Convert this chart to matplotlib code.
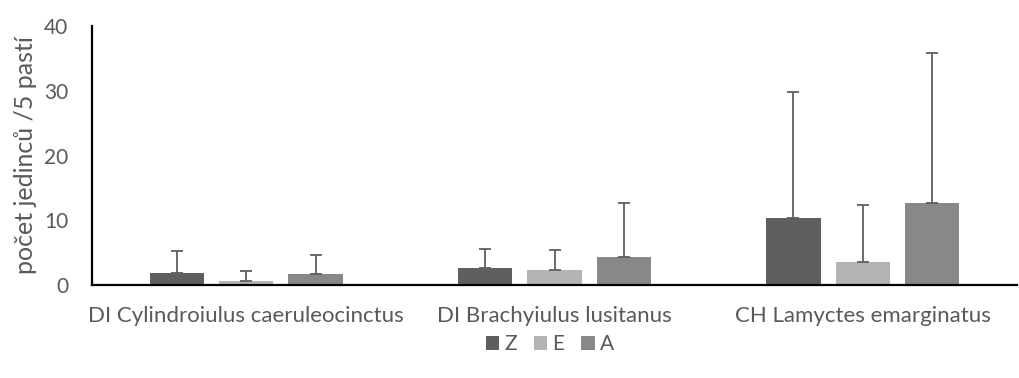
import matplotlib
matplotlib.use("Agg")
import matplotlib.pyplot as plt
import numpy as np

# Data
categories = ["DI Cylindroiulus caeruleocinctus", "DI Brachyiulus lusitanus", "CH Lamyctes emarginatus"]
series_names = ["Z", "E", "A"]
z_vals = [1.85, 2.6, 10.3]
e_vals = [0.6, 2.3, 3.6]
a_vals = [1.65, 4.3, 12.7]
z_err = [3.35, 2.95, 19.5]
e_err = [1.55, 3.15, 8.8]
a_err = [2.95, 8.3, 23.2]

colors = ["#5f5f5f", "#b4b4b4", "#888888"]
text_color = "#595959"

plt.rcParams["font.family"] = ["Lato", "DejaVu Sans"]

fig = plt.figure(figsize=(10.19, 3.78), dpi=100)
ax = fig.add_axes([92 / 1019, 1 - 285 / 378, (1017 - 92) / 1019, (285 - 26) / 378])

x = np.arange(len(categories))
width = 0.176
step = 0.225
for i, (vals, errs, name) in enumerate(zip([z_vals, e_vals, a_vals], [z_err, e_err, a_err], series_names)):
    pos = x + (i - 1) * step
    ax.bar(pos, vals, width=width, color=colors[i], label=name, zorder=2)
    ax.errorbar(pos, vals, yerr=[np.zeros(len(vals)), errs], fmt="none",
                ecolor="#5f5f5f", elinewidth=1.3, capsize=4.3, capthick=1.3, zorder=3)

ax.set_xlim(-0.5, 2.5)
ax.set_ylim(0, 40)
ax.set_yticks([0, 10, 20, 30, 40])
ax.set_xticks(x)
ax.set_xticklabels(categories)
ax.tick_params(axis="both", length=0, labelsize=15, colors=text_color)
ax.tick_params(axis="x", pad=15, labelsize=16)
ax.tick_params(axis="y", pad=17)
for side in ["top", "right"]:
    ax.spines[side].set_visible(False)
for side in ["left", "bottom"]:
    ax.spines[side].set_linewidth(1.6)
    ax.spines[side].set_color("black")

ax.set_ylabel("počet jedinců /5 pastí", fontsize=18, color=text_color, labelpad=5)

leg = fig.legend(loc="center", bbox_to_anchor=(550 / 1019, 1 - 344 / 378), ncol=3, frameon=False,
                 fontsize=15, handlelength=0.65, handleheight=0.65, handletextpad=0.25, columnspacing=0.8)
for t in leg.get_texts():
    t.set_color(text_color)

fig.savefig("out.png", dpi=100)
